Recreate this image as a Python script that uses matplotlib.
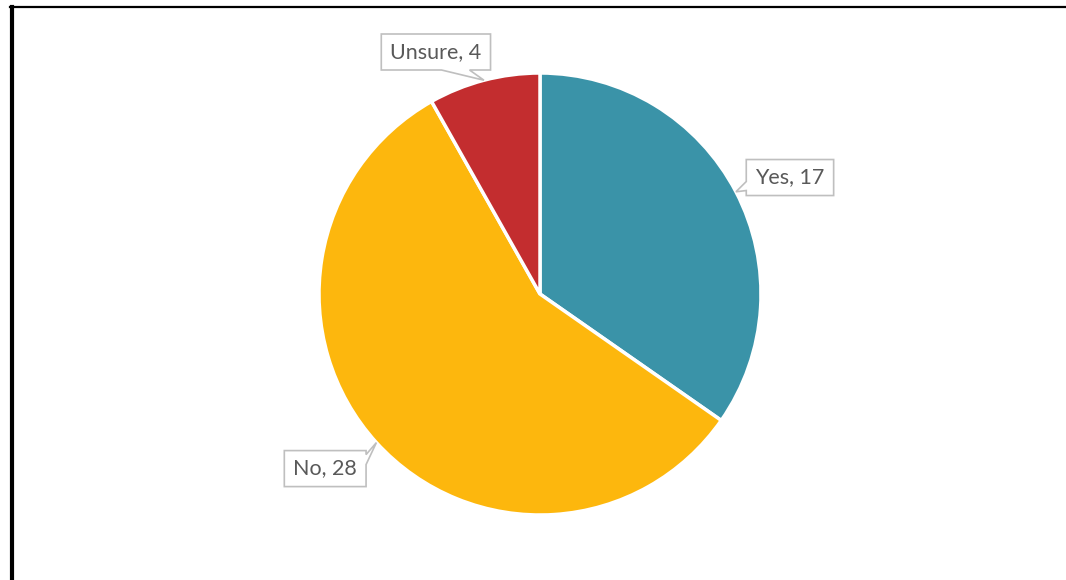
import matplotlib.pyplot as plt
import numpy as np
from matplotlib.lines import Line2D
from matplotlib.patches import Polygon
from matplotlib.transforms import IdentityTransform

plt.rcParams['font.family'] = ['Lato', 'DejaVu Sans']

# 饼图数据
labels = ['Yes', 'No', 'Unsure']
values = [17, 28, 4]
colors = ['#3A93A8', '#FDB70D', '#C32D2F']

# 标签框中心 (数据坐标, 半径=1) 以及指针所在的框边
label_pos = [(1.131, 0.527), (-0.972, -0.790), (-0.471, 1.095)]
notch_side = ['left', 'right', 'bottom']

W, H = 1066, 580
fig = plt.figure(figsize=(W / 100, H / 100), dpi=100)
cx, cy, r = 540, 294, 221
ax = fig.add_axes([(cx - r) / W, (H - cy - r) / H, 2 * r / W, 2 * r / H])

wedges, _ = ax.pie(values, colors=colors, startangle=90, counterclock=False,
                   radius=1, wedgeprops=dict(edgecolor='white', linewidth=2.5))
ax.set_xlim(-1, 1)
ax.set_ylim(-1, 1)
ax.set_aspect('equal')
ax.axis('off')

# 数据标签 + 带指针的标注框
fig.canvas.draw()
renderer = fig.canvas.get_renderer()
for w, lab, v, pos, side in zip(wedges, labels, values, label_pos, notch_side):
    mid = np.deg2rad((w.theta1 + w.theta2) / 2)
    tip = tuple(ax.transData.transform((np.cos(mid), np.sin(mid))))
    t = ax.text(pos[0], pos[1], f'{lab}, {v}', ha='center', va='center',
                fontsize=15.5, color='#595959', zorder=6, clip_on=False)
    bb = t.get_window_extent(renderer)
    yc = (bb.y0 + bb.y1) / 2
    x0, x1 = bb.x0 - 9, bb.x1 + 9
    y0, y1 = yc - 18, yc + 18
    if side == 'left':
        pts = [(x0, y0), (x1, y0), (x1, y1), (x0, y1),
               (x0, y0 + 14), tip, (x0, y0 + 5)]
    elif side == 'right':
        pts = [(x0, y0), (x1, y0), (x1, y1 - 14), tip,
               (x1, y1 - 4), (x1, y1), (x0, y1)]
    else:
        pts = [(x0, y0), (x1 - 49, y0), tip, (x1 - 21, y0),
               (x1, y0), (x1, y1), (x0, y1)]
    poly = Polygon(pts, closed=True, transform=IdentityTransform(),
                   facecolor='white', edgecolor='#BFBFBF', linewidth=1.2,
                   zorder=5, clip_on=False)
    ax.add_patch(poly)

# 外框线 (上边和左边)
fig.add_artist(Line2D([10 / W, 1.0], [1 - 6.5 / H, 1 - 6.5 / H],
                      color='black', linewidth=1.6))
fig.add_artist(Line2D([12 / W, 12 / W], [0, 1 - 6.5 / H],
                      color='black', linewidth=3.0))

fig.savefig('out.png', dpi=100)
